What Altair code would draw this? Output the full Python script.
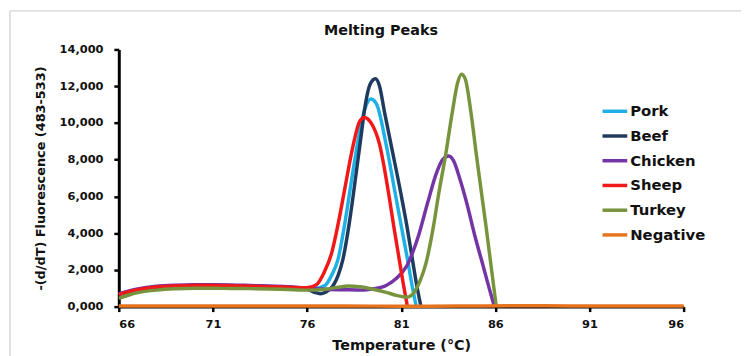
import altair as alt
import pandas as pd

series_names = ["Pork", "Beef", "Chicken", "Sheep", "Turkey", "Negative"]
series_colors = ["#1FB0E6", "#1F3A5F", "#7434A6", "#F01818", "#77933C", "#E8731E"]

base_t = [66, 66.5, 67, 68, 69, 70, 71, 72, 73, 74, 75]
base_v = [650, 800, 920, 1070, 1130, 1150, 1150, 1140, 1110, 1080, 1050]

pork_t = base_t + [76, 76.4, 76.95, 77.3, 77.65, 78.0, 78.35, 78.7, 79.05, 79.4, 79.7, 80.19, 80.68, 81.0, 81.33, 81.55, 81.8]
pork_v = base_v + [1010, 1000, 1150, 1700, 2600, 4500, 6800, 9000, 10700, 11300, 11000, 8870, 6170, 4400, 2600, 1300, 0]

beef_t = base_t + [76, 76.4, 76.7, 77.0, 77.39, 77.65, 77.91, 78.25, 78.6, 78.87, 79.05, 79.35, 79.63, 79.85, 80.1, 80.45, 80.98, 81.3, 81.59, 81.8, 82.05]
beef_v = base_v + [950, 780, 700, 800, 1150, 1700, 2600, 4600, 7200, 9300, 10700, 12100, 12400, 12000, 10660, 8870, 6170, 4400, 2600, 1300, 0]

chicken_t = base_t + [76, 77, 78, 79, 79.5, 80.2, 80.7, 81.3, 81.9, 82.4, 82.9, 83.2, 83.52, 83.8, 84.1, 84.48, 84.9, 85.35, 85.7, 85.95]
chicken_v = [v + 40 for v in base_v] + [1000, 950, 920, 900, 970, 1150, 1500, 2225, 3800, 5640, 7350, 8000, 8200, 7900, 7000, 5640, 3900, 2225, 900, 0]

sheep_t = base_t + [76.0, 76.5, 76.9, 77.3, 77.65, 78.0, 78.43, 78.8, 79.05, 79.4, 79.84, 80.33, 80.6, 80.89, 81.1, 81.33]
sheep_v = base_v + [1030, 1200, 1850, 2900, 4500, 6400, 8700, 10100, 10300, 10000, 8870, 6170, 4400, 2600, 1300, 0]

turkey_t = [66, 66.5, 67, 68, 69, 70, 71, 72, 73, 74, 75, 76, 77, 77.6, 78.2, 78.8, 79.5, 80.2, 80.8, 81.3,
            81.7, 82.0, 82.3, 82.7, 83.0, 83.35, 83.7, 84.0, 84.2, 84.4, 84.7, 85.0, 85.5, 85.8, 86.05]
turkey_v = [450, 620, 760, 900, 970, 1000, 1000, 990, 980, 960, 930, 900, 950, 1050, 1120, 1080, 950, 780, 600, 520,
            800, 1400, 2300, 4300, 6200, 8200, 10500, 12200, 12650, 12400, 10600, 8200, 4400, 2000, 0]

negative_t = [66, 69, 72, 75, 78, 81, 84, 87, 90, 93, 96]
negative_v = [30, 40, 35, 30, 30, 25, 30, 45, 40, 30, 30]

x_ticks = [66, 71, 76, 81, 86, 91, 96]
y_ticks = [0, 2000, 4000, 6000, 8000, 10000, 12000, 14000]

rows = []
for name, ts, vs in [
    ("Pork", pork_t, pork_v),
    ("Beef", beef_t, beef_v),
    ("Chicken", chicken_t, chicken_v),
    ("Sheep", sheep_t, sheep_v),
    ("Turkey", turkey_t, turkey_v),
    ("Negative", negative_t, negative_v),
]:
    for t, v in zip(ts, vs):
        rows.append({"series": name, "temp": t, "value": v})
df = pd.DataFrame(rows)

FONT = "DejaVu Sans"

base = alt.Chart(df).mark_line(strokeWidth=3.5, interpolate="monotone").encode(
    x=alt.X("temp:Q",
            scale=alt.Scale(domain=[66, 96], nice=False, zero=False),
            axis=alt.Axis(values=x_ticks, title="Temperature (°C)", format="d",
                          labelPadding=7, titlePadding=9, titleFontSize=14.5)),
    y=alt.Y("value:Q",
            scale=alt.Scale(domain=[0, 14000], nice=False),
            axis=alt.Axis(values=y_ticks, title="-(d/dT) Fluorescence (483-533)",
                          labelExpr="datum.value == 0 ? '0,000' : format(datum.value, ',')",
                          labelPadding=11, titlePadding=12, titleFontSize=13)),
    color=alt.Color("series:N",
                    scale=alt.Scale(domain=series_names, range=series_colors),
                    legend=alt.Legend(title=None, orient="none", legendX=487, legendY=48,
                                      symbolType="stroke", symbolSize=625, symbolStrokeWidth=3.5,
                                      labelFont=FONT, labelFontWeight="bold", labelFontSize=15,
                                      labelColor="#111", labelOffset=1, rowPadding=2, padding=0)),
)

lines = [base.transform_filter(alt.datum.series == s) for s in series_names]

frame = alt.Chart(pd.DataFrame({"a": [0]}))
top_border = frame.mark_rule(color="#D6D6D6", strokeWidth=1.5).encode(
    x=alt.value(-110), x2=alt.value(640), y=alt.value(-39))
left_border = frame.mark_rule(color="#D6D6D6", strokeWidth=1.5).encode(
    x=alt.value(-110), y=alt.value(-39), y2=alt.value(320))
title = frame.mark_text(font=FONT, fontSize=14.5, fontWeight="bold", color="#111",
                        align="center", baseline="alphabetic").encode(
    x=alt.value(265), y=alt.value(-15), text=alt.value("Melting Peaks"))

chart = alt.layer(top_border, left_border, *lines, title).properties(
    width=571, height=260,
    padding={"left": 112, "top": 40, "right": 58, "bottom": 48},
    autosize="none",
).configure_view(stroke=None).configure_axis(
    grid=False, domainColor="#000", domainWidth=3, tickColor="#000", tickWidth=2.5, tickSize=5,
    labelFont=FONT, labelFontWeight="bold", labelFontSize=11.5, labelColor="#111",
    titleFont=FONT, titleFontWeight="bold", titleColor="#111",
)

chart.save("out.html", embed_options={"renderer": "svg", "actions": False})
